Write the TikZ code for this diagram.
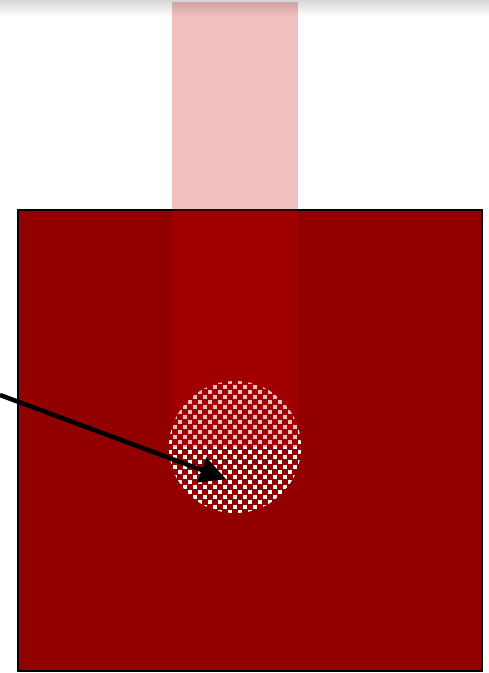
\documentclass[tikz,border=0pt]{standalone}
\usepackage{xcolor}
\usepackage{tikz}
\usetikzlibrary{arrows.meta,fadings}

\definecolor{slabred}{RGB}{146,0,0}
\definecolor{beamred}{RGB}{202,0,0}
\tikzfading[name=fadetop, top color=transparent!0, bottom color=transparent!100]

\begin{document}
\begin{tikzpicture}[
    x=1pt, y=-1pt,
    slab/.style={fill=slabred, draw=black, line width=2pt},
    beam/.style={fill=beamred, fill opacity=0.25},
    dot/.style={fill=white},
    pointer/.style={-{Triangle[length=26pt,width=26pt]}, line width=4.5pt, black},
]
    \useasboundingbox (0,0) rectangle (489,673);
    \coordinate (hole) at (235,447);
    \coordinate (src) at (0,395);
    \coordinate (tip) at (226,479);

    % slab
    \draw[slab] (18,210) rectangle (482,671);

    % checkered spot
    \begin{scope}
        \clip (hole) circle (66);
        \foreach \r in {-14,...,13}{
            \pgfmathsetmacro{\sh}{mod(\r+14,2)*5}
            \foreach \c in {-7,...,7}
                \fill[dot] ({235+\c*10+\sh-2.1},{447+\r*5-2.1}) rectangle +(4.2,4.2);
        }
    \end{scope}

    % beam
    \fill[beam] (172,2) rectangle (298,447);

    % pointer
    \draw[pointer] (src) -- (tip);

    % shadow at top edge
    \fill[black, opacity=0.16, path fading=fadetop] (0,0) rectangle (489,16);
\end{tikzpicture}
\end{document}
